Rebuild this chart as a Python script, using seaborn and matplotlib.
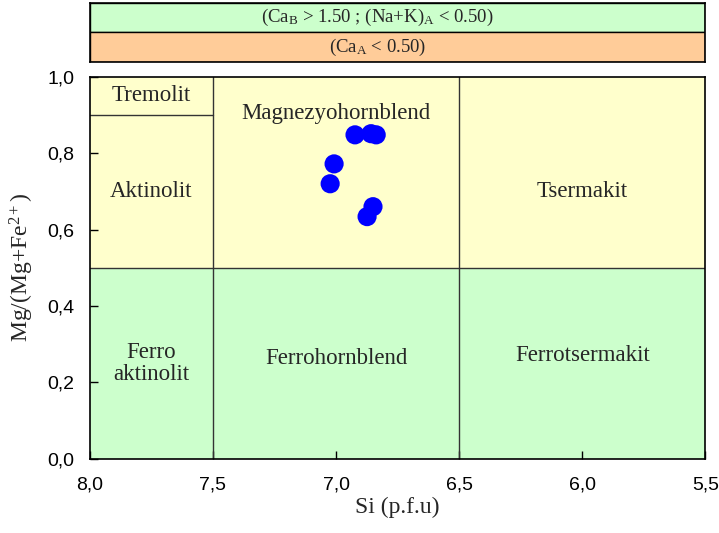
import matplotlib
matplotlib.use("Agg")
import matplotlib.pyplot as plt
import seaborn as sns
import pandas as pd
from matplotlib.ticker import FuncFormatter
from matplotlib.patches import Rectangle

# sample analyses (Si p.f.u vs Mg/(Mg+Fe2+))
si = [6.923, 6.858, 6.837, 7.008, 7.024, 6.850, 6.874]
mg_ratio = [0.848, 0.851, 0.848, 0.772, 0.720, 0.660, 0.634]

x_ticks = [8.0, 7.5, 7.0, 6.5, 6.0, 5.5]
y_ticks = [0.0, 0.2, 0.4, 0.6, 0.8, 1.0]

# field names and label positions
field_names = ["Tremolit", "Aktinolit", "Magnezyohornblend", "Tsermakit",
               "Ferro\naktinolit", "Ferrohornblend", "Ferrotsermakit"]
field_x = [7.75, 7.75, 7.0, 6.0, 7.75, 7.0, 6.0]
field_y = [0.95, 0.70, 0.903, 0.70, 0.25, 0.264, 0.27]

header_texts = ["(Ca$_\\mathrm{B}$ > 1.50 ; (Na+K)$_\\mathrm{A}$ < 0.50)",
                "(Ca$_\\mathrm{A}$ < 0.50)"]

yellow = "#FFFFCC"
green = "#CCFFCC"
orange = "#FFCC99"
edge = "#333333"

sns.set_style("ticks")
plt.rcParams['font.family'] = ['Liberation Serif', 'DejaVu Serif']
plt.rcParams['mathtext.fontset'] = 'custom'
plt.rcParams['mathtext.rm'] = 'Liberation Serif'
plt.rcParams['mathtext.it'] = 'Liberation Serif:italic'
plt.rcParams['mathtext.bf'] = 'Liberation Serif:bold'

df = pd.DataFrame({"Si": si, "Mg": mg_ratio})

fig = plt.figure(figsize=(7.19, 5.33), dpi=100)
ax = fig.add_axes([0.125, 0.139, 0.856, 0.717])

# background fields
ax.add_patch(Rectangle((5.5, 0.5), 2.5, 0.5, facecolor=yellow, edgecolor="none", zorder=0))
ax.add_patch(Rectangle((5.5, 0.0), 2.5, 0.5, facecolor=green, edgecolor="none", zorder=0))

# field boundaries
ax.axvline(7.5, color=edge, lw=1.0, zorder=1)
ax.axvline(6.5, color=edge, lw=1.0, zorder=1)
ax.axhline(0.5, color=edge, lw=1.0, zorder=1)
ax.plot([8.0, 7.5], [0.9, 0.9], color=edge, lw=1.0, zorder=1)

for name, fx, fy in zip(field_names, field_x, field_y):
    ax.text(fx, fy, name, ha="center", va="center", fontsize=16.5,
            linespacing=1.1, zorder=2)

sns.scatterplot(data=df, x="Si", y="Mg", ax=ax, color="#0000FF", s=190,
                edgecolor="none", zorder=3, legend=False)

ax.set_xlim(8.0, 5.5)
ax.set_ylim(0.0, 1.0)
ax.set_xticks(x_ticks)
ax.set_yticks(y_ticks)
fmt = FuncFormatter(lambda v, p: f"{v:.1f}".replace(".", ","))
ax.xaxis.set_major_formatter(fmt)
ax.yaxis.set_major_formatter(fmt)
ax.tick_params(direction="in", length=6, width=1, colors="black", labelsize=14)
ax.tick_params(axis="x", pad=13)
ax.tick_params(axis="y", pad=11)
for lab in ax.get_xticklabels() + ax.get_yticklabels():
    lab.set_family(['Liberation Sans', 'DejaVu Sans'])
for s in ax.spines.values():
    s.set_color("black")
    s.set_linewidth(1.2)
ax.set_xlabel("Si (p.f.u)", fontsize=17, labelpad=2)
ax.set_ylabel("Mg/(Mg+Fe$^{\\mathrm{2+}}$)", fontsize=17, labelpad=8)

# header boxes
hx = fig.add_axes([0.125, 0.884, 0.856, 0.111])
hx.set_xlim(0, 1)
hx.set_ylim(0, 2)
hx.add_patch(Rectangle((0, 1), 1, 1, facecolor=green, edgecolor="black", lw=1.0))
hx.add_patch(Rectangle((0, 0), 1, 1, facecolor=orange, edgecolor="black", lw=1.0))
hx.text(0.467, 1.5, header_texts[0], ha="center", va="center", fontsize=13.5)
hx.text(0.467, 0.5, header_texts[1], ha="center", va="center", fontsize=13.5)
hx.set_xticks([])
hx.set_yticks([])
for s in hx.spines.values():
    s.set_color("black")
    s.set_linewidth(1.2)

fig.savefig("out.png", dpi=100)
